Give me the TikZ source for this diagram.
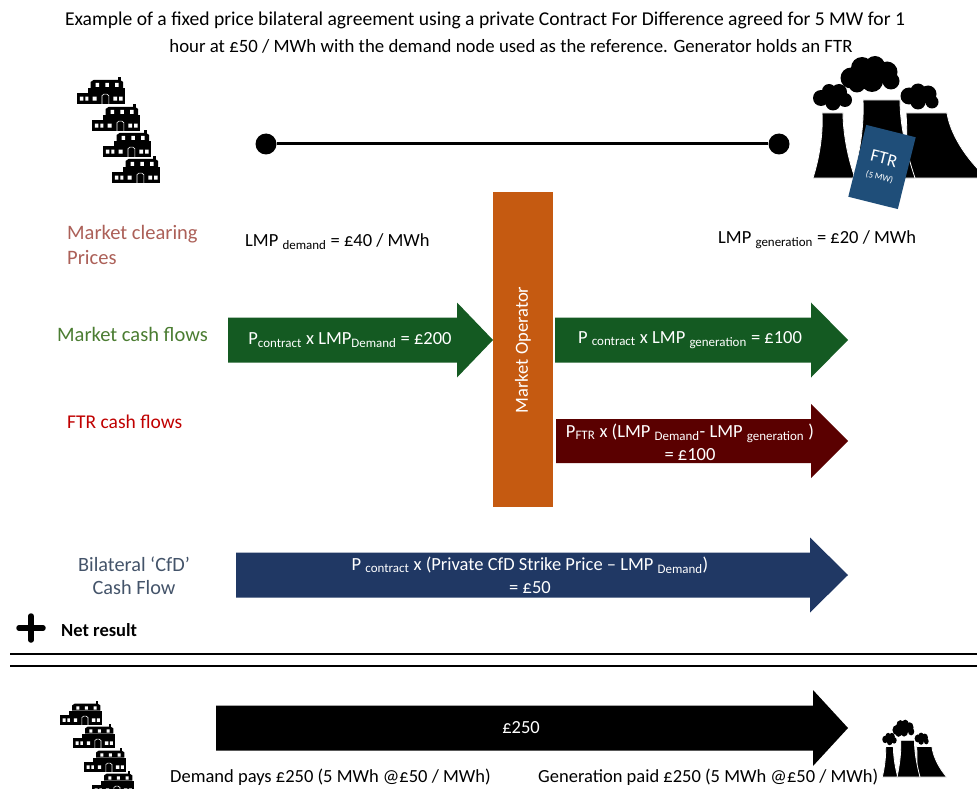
\documentclass[tikz,border=0pt]{standalone}
\usepackage{fontspec}
\setmainfont{Carlito}
\definecolor{mgreen}{RGB}{20,90,34}
\definecolor{mmaroon}{RGB}{90,0,0}
\definecolor{mnavy}{RGB}{32,56,100}
\definecolor{morange}{RGB}{197,90,17}
\definecolor{ftrblue}{RGB}{31,78,121}
\definecolor{lblbrown}{RGB}{172,96,88}
\definecolor{lblgreen}{RGB}{75,125,50}
\definecolor{lblred}{RGB}{192,0,0}
\definecolor{lblslate}{RGB}{68,84,106}
\newcommand\blockarrow[7]{%
  \fill[#1] (#2,#5-#6) -- (#3,#5-#6) -- (#3,#5-#7) -- (#4,#5) -- (#3,#5+#7) -- (#3,#5+#6) -- (#2,#5+#6) -- cycle;}
\tikzset{
  house/.pic={
    \fill[black] (0,15) rectangle (14,27);
    \fill[black] (11,10) rectangle (49,27);
    \fill[black] (14,10) -- (14,4) -- (17,2) -- (44,2) -- (47,4) -- (47,10) -- cycle;
    \fill[black] (42,-1) rectangle (44.5,3);
    \fill[white] (19,5) rectangle (22.5,9) (29,5) rectangle (32.5,9) (39,5) rectangle (42.5,9);
    \fill[white] (3,19) rectangle (6.5,23) (8.5,19) rectangle (11.5,23);
    \fill[white] (16,19) rectangle (20,23) (37,19) rectangle (41,23) (43,19) rectangle (46.5,23);
    \draw[white, line width=0.6] (25.5,27) -- (25.5,18) -- (27.5,16.5) -- (30.5,16.5) -- (32.5,18) -- (32.5,27);
  },
  plant/.pic={
    \fill[black] (6,-80) circle (8) (14,-87) circle (7) (24,-86) circle (8) (30,-78) circle (7) (18,-75) circle (7.5) (17,-81) circle (8);
    \fill[black] (36,-100) circle (10.5) (47,-110) circle (11) (60,-112) circle (10) (72,-106) circle (10.5) (76,-97) circle (8.5) (57,-97) circle (11) (42,-94) circle (8.5) (58,-104) circle (11);
    \fill[black] (94,-82) circle (8.5) (103,-87) circle (7.5) (113,-84) circle (8.5) (117,-76) circle (6.5) (103,-76) circle (7.5) (105,-81) circle (8);
    \filldraw[fill=black, draw=white, line width=0.8] (-2,0) .. controls (6,-25) and (8,-50) .. (7,-65) -- (28,-65) .. controls (28,-50) and (31,-25) .. (40,0) -- cycle;
    \filldraw[fill=black, draw=white, line width=0.8] (88,0) .. controls (93,-25) and (92,-50) .. (91,-65) -- (132,-65) .. controls (135,-45) and (150,-20) .. (172,0) -- cycle;
    \filldraw[fill=black, draw=white, line width=0.8] (38,0) .. controls (46,-30) and (49,-55) .. (48,-78) -- (85,-78) .. controls (85,-55) and (90,-30) .. (100,0) -- cycle;
  },
  txt/.style={inner sep=0pt, font=\fontsize{18.5}{23}\selectfont},
  lbl/.style={inner sep=0pt, font=\fontsize{20.5}{25}\selectfont, anchor=west},
  wtxt/.style={txt, text=white, align=center}
}
\begin{document}
\begin{tikzpicture}[x=1pt,y=-1pt]
\useasboundingbox (0,0) rectangle (977,789);
\fill[white] (0,0) rectangle (977,789);

% title
\node[txt, font=\fontsize{19.6}{23}\selectfont] (t1) at (485,20) {Example of a fixed price bilateral agreement using a private Contract For Difference agreed for 5 MW for 1};
\node[txt, font=\fontsize{18.8}{23}\selectfont] (t2) at (511,46) {hour at £50 / MWh with the demand node used as the reference. Generator holds an FTR};

% houses top
\pic[scale=0.98] at (77,78) {house};
\pic[scale=0.98] at (92,105) {house};
\pic[scale=0.98] at (103,131) {house};
\pic[scale=0.98] at (112,157) {house};

% plant top
\pic at (815,178) {plant};
\node[fill=ftrblue, rotate=-14, minimum width=51pt, minimum height=74pt, inner sep=0pt, text=white, align=center] (ftr) at (882,167)
  {{\fontsize{18}{20}\selectfont FTR}\\[4pt]{\fontsize{9}{10}\selectfont (5 MW)}};

% network line
\node[circle, fill=black, inner sep=0pt, minimum size=21pt] (dl) at (266,144) {};
\node[circle, fill=black, inner sep=0pt, minimum size=21pt] (dr) at (779,144) {};
\draw[line width=3pt] (dl) -- (dr);

% labels
\node[lbl, text=lblbrown, align=left] (mcp) at (67,245) {Market clearing\\Prices};
\node[txt, anchor=west] (lmpd) at (245,242) {LMP \textsubscript{demand} = £40 / MWh};
\node[txt, anchor=west] (lmpg) at (718,240) {LMP \textsubscript{generation} = £20 / MWh};
\node[lbl, text=lblgreen] (mcf) at (57,334) {Market cash flows};
\node[lbl, text=lblred, font=\fontsize{19.5}{23}\selectfont] (fcf) at (67,422) {FTR cash flows};
\node[txt, text=lblslate, align=center, font=\fontsize{20.3}{23}\selectfont] (bcf) at (134,576) {Bilateral ‘CfD’\\Cash Flow};

% market operator
\fill[morange] (493,192) rectangle (553,507);
\node[txt, text=white, rotate=90] (mo) at (523,350) {Market Operator};

% arrows
\blockarrow{mgreen}{228}{457}{493}{340}{22.5}{37.5}
\node[wtxt] (a1) at (350,340) {P\textsubscript{contract} x LMP\textsubscript{Demand} = £200};
\blockarrow{mgreen}{555}{811}{848}{340}{22.5}{37.5}
\node[wtxt] (a2) at (690,340) {P \textsubscript{contract} x LMP \textsubscript{generation} = £100};
\blockarrow{mmaroon}{556}{811}{848}{441}{22}{37}
\node[wtxt] (a3) at (690,442) {P\textsubscript{FTR} x (LMP \textsubscript{Demand}- LMP \textsubscript{generation} )\\= £100};
\blockarrow{mnavy}{236}{810}{848}{575}{22.5}{37.5}
\node[wtxt] (a4) at (530,575) {P \textsubscript{contract} x (Private CfD Strike Price – LMP \textsubscript{Demand})\\= £50};

% net result
\draw[line width=5.5pt, line cap=round] (19,628) -- (43,628) (31,616) -- (31,640);
\node[txt, anchor=west, font=\fontsize{18.5}{23}\selectfont\bfseries] (net) at (61,630) {Net result};
\draw[line width=2pt] (10,654) -- (977,654);
\draw[line width=2pt] (10,666) -- (977,666);

% bottom
\pic[scale=0.86] at (60,702) {house};
\pic[scale=0.86] at (73,725) {house};
\pic[scale=0.86] at (84,749) {house};
\pic[scale=0.86] at (92,772) {house};
\pic[xscale=0.37, yscale=0.47] at (883,777) {plant};
\blockarrow{black}{216}{813}{848}{728}{22.5}{38}
\node[wtxt] (a5) at (521,728) {£250};
\node[txt, anchor=west] (dp) at (170,777) {Demand pays £250 (5 MWh @£50 / MWh)};
\node[txt, anchor=west] (gp) at (538,777) {Generation paid £250 (5 MWh @£50 / MWh)};
\end{tikzpicture}
\end{document}
